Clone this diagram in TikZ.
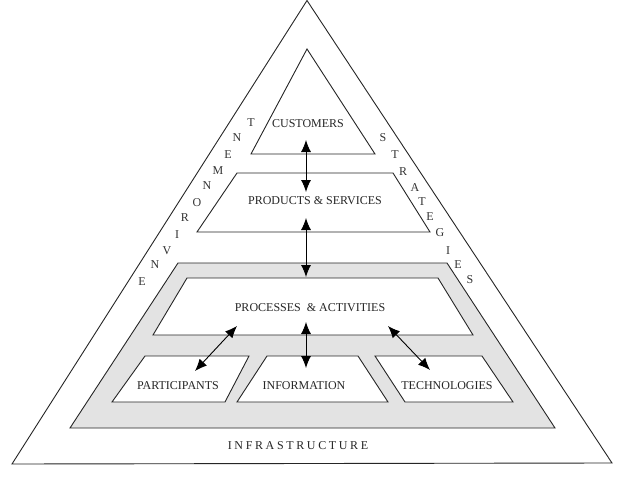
\documentclass[tikz,border=0pt]{standalone}
\usepackage{fontspec}
\setmainfont{Liberation Serif}
\usetikzlibrary{arrows.meta}
\begin{document}
\begin{tikzpicture}[x=1pt,y=-1pt,
  shapeline/.style={draw=black!85,line width=0.9pt,line join=miter},
  lbl/.style={inner sep=0pt,font=\fontsize{12}{12}\selectfont,text=black!85},
  ltr/.style={inner sep=0pt,font=\fontsize{12}{12}\selectfont,text=black!80},
  dbl/.style={line width=0.9pt,draw=black,{Latex[length=12pt,width=10pt]}-{Latex[length=12pt,width=10pt]}}]
\useasboundingbox (0,0) rectangle (638,479);
\fill[white] (0,0) rectangle (638,479);
% outer triangle
\draw[shapeline] (307,0.5) -- (612,463) -- (12,464) -- cycle;
% customers triangle
\draw[shapeline] (307,49) -- (375,154) -- (251,154) -- cycle;
% products & services
\draw[shapeline] (237,173) -- (393,173) -- (430,232) -- (197,232) -- cycle;
% gray infrastructure band
\draw[shapeline,fill=black!11] (178,263) -- (447,263) -- (555,428) -- (70,428) -- cycle;
% processes & activities
\draw[shapeline,fill=white] (187,278) -- (438,278) -- (473,335) -- (153,335) -- cycle;
% bottom boxes
\draw[shapeline,fill=white] (145,356) -- (249,356) -- (225,402) -- (112,402) -- cycle;
\draw[shapeline,fill=white] (267,356) -- (358,356) -- (388,402) -- (237,402) -- cycle;
\draw[shapeline,fill=white] (375,356) -- (482,356) -- (513,402) -- (405,402) -- cycle;
% labels
\node[lbl] (cust) at (308,124) {CUSTOMERS};
\node[lbl] (prod) at (315,201) {PRODUCTS \& SERVICES};
\node[lbl] (proc) at (310,308) {PROCESSES \ \& ACTIVITIES};
\node[lbl] (part) at (178,386) {PARTICIPANTS};
\node[lbl] (info) at (304,386) {INFORMATION};
\node[lbl] (tech) at (447,386) {TECHNOLOGIES};
\node[lbl,font=\fontsize{12}{12}\selectfont\addfontfeature{LetterSpace=22}] (infra) at (298,446) {INFRASTRUCTURE};
% ENVIRONMENT letters (bottom-up)
\foreach \l/\x/\y [count=\i] in {E/142/282,N/155/265,V/167/251,I/177/235,R/185/218,O/197/203,N/207/186,M/218/171,E/228/155,N/237/138,T/251/123}
  \node[ltr] (env\i) at (\x,\y) {\l};
% STRATEGIES letters (top-down)
\foreach \l/\x/\y [count=\i] in {S/383/138,T/395/155,R/403/172,A/415/188,T/422/202,E/430/217,G/440/233,I/448/251,E/458/265,S/470/280}
  \node[ltr] (str\i) at (\x,\y) {\l};
% arrow end points
\coordinate (c1) at (306,140);
\coordinate (p1) at (306,192);
\coordinate (p2) at (306,218);
\coordinate (q1) at (306,277);
\coordinate (q2) at (306,322);
\coordinate (i1) at (306,368);
\coordinate (q3) at (237,326);
\coordinate (pa1) at (195,371);
\coordinate (q4) at (388,326);
\coordinate (t1) at (430,370);
\draw[dbl] (c1) -- (p1);
\draw[dbl] (p2) -- (q1);
\draw[dbl] (q2) -- (i1);
\draw[dbl] (q3) -- (pa1);
\draw[dbl] (q4) -- (t1);
\end{tikzpicture}
\end{document}
